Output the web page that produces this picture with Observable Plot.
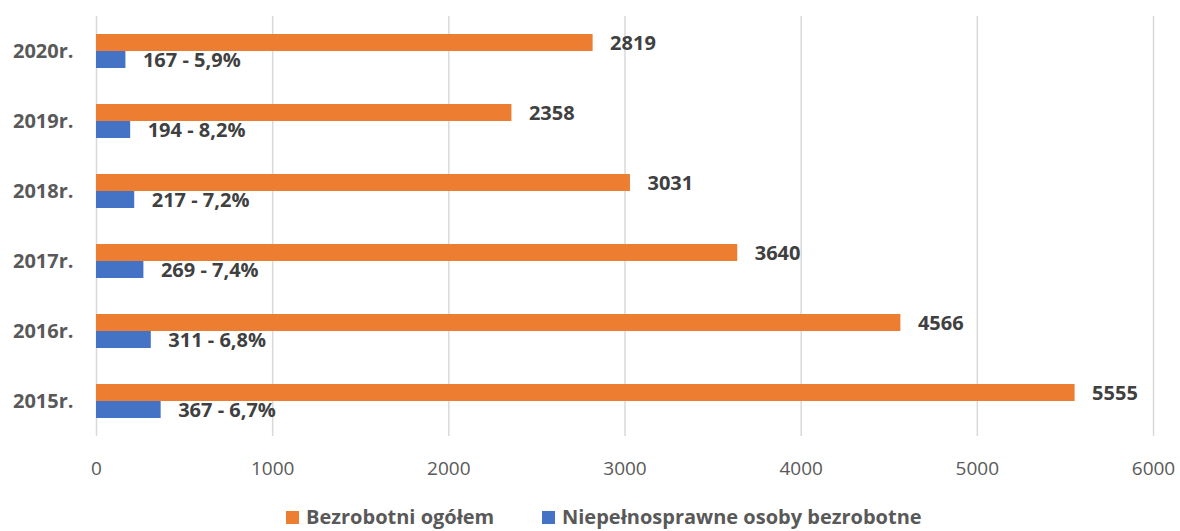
<!DOCTYPE html>
<html>
<head>
<meta charset="utf-8">
<script src="https://cdn.jsdelivr.net/npm/d3@7"></script>
<script src="https://cdn.jsdelivr.net/npm/@observablehq/plot@0.6"></script>
<style>
  html, body { margin: 0; padding: 0; background: #fff; }
  body { width: 1180px; height: 531px; overflow: hidden; font-family: "Open Sans", sans-serif; }
  #legend { position: relative; height: 19px; font-family: "Open Sans", sans-serif; font-weight: bold; font-size: 20px; color: #595959; }
  .item { position: absolute; top: -6px; height: 22px; line-height: 22px; white-space: nowrap; }
  .sw { display: inline-block; width: 13px; height: 13px; margin-right: 7px; vertical-align: 0px; }
</style>
</head>
<body>
<div id="chart"></div>
<div id="legend"></div>
<script>
const years = ["2020", "2019", "2018", "2017", "2016", "2015"];
const total = [2819, 2358, 3031, 3640, 4566, 5555];
const disabled = [167, 194, 217, 269, 311, 367];
const pct = [5.9, 8.2, 7.2, 7.4, 6.8, 6.7];
const seriesNames = ["Bezrobotni ogółem", "Niepełnosprawne osoby bezrobotne"];
const seriesColors = ["#ED7D31", "#4472C4"];
const xTicks = [0, 1000, 2000, 3000, 4000, 5000, 6000];

const rows = [];
years.forEach((y, i) => {
  rows.push({year: y, series: seriesNames[0], value: total[i], label: String(total[i])});
  rows.push({year: y, series: seriesNames[1], value: disabled[i], label: disabled[i] + " - " + pct[i].toFixed(1).replace(".", ",") + "%"});
});

const chart = Plot.plot({
  width: 1180,
  height: 512,
  marginLeft: 96,
  marginRight: 27,
  marginTop: 15,
  marginBottom: 76,
  style: {fontFamily: "Open Sans, sans-serif", background: "#fff"},
  x: {domain: [0, 6000]},
  y: {domain: seriesNames, paddingInner: 0, paddingOuter: 0.95, axis: null},
  fy: {domain: years, padding: 0, label: null},
  color: {domain: seriesNames, range: seriesColors},
  marks: [
    Plot.gridX(xTicks, {stroke: "#d9d9d9", strokeOpacity: 1, strokeWidth: 1.5}),
    Plot.barX(rows, {x: "value", y: "series", fy: "year", fill: "series"}),
    Plot.text(rows, {x: "value", y: "series", fy: "year", text: "label", textAnchor: "start", dx: 17, dy: 1,
      fontSize: 20, fontWeight: "bold", fill: "#404040"}),
    Plot.axisX(xTicks, {tickSize: 0, tickPadding: 25, fontSize: 19, color: "#595959", label: null, tickFormat: d => String(d)}),
    Plot.axisFy({anchor: "left", tickSize: 0, tickPadding: 23, tickFormat: d => d + "r.", fontSize: 20, fontWeight: "bold", color: "#595959", label: null})
  ]
});
document.getElementById("chart").appendChild(chart);

const legend = document.getElementById("legend");
const lefts = [286, 542];
seriesNames.forEach((name, i) => {
  const item = document.createElement("div");
  item.className = "item";
  item.style.left = lefts[i] + "px";
  const sw = document.createElement("span");
  sw.className = "sw";
  sw.style.background = seriesColors[i];
  item.appendChild(sw);
  item.appendChild(document.createTextNode(name));
  legend.appendChild(item);
});
</script>
</body>
</html>
